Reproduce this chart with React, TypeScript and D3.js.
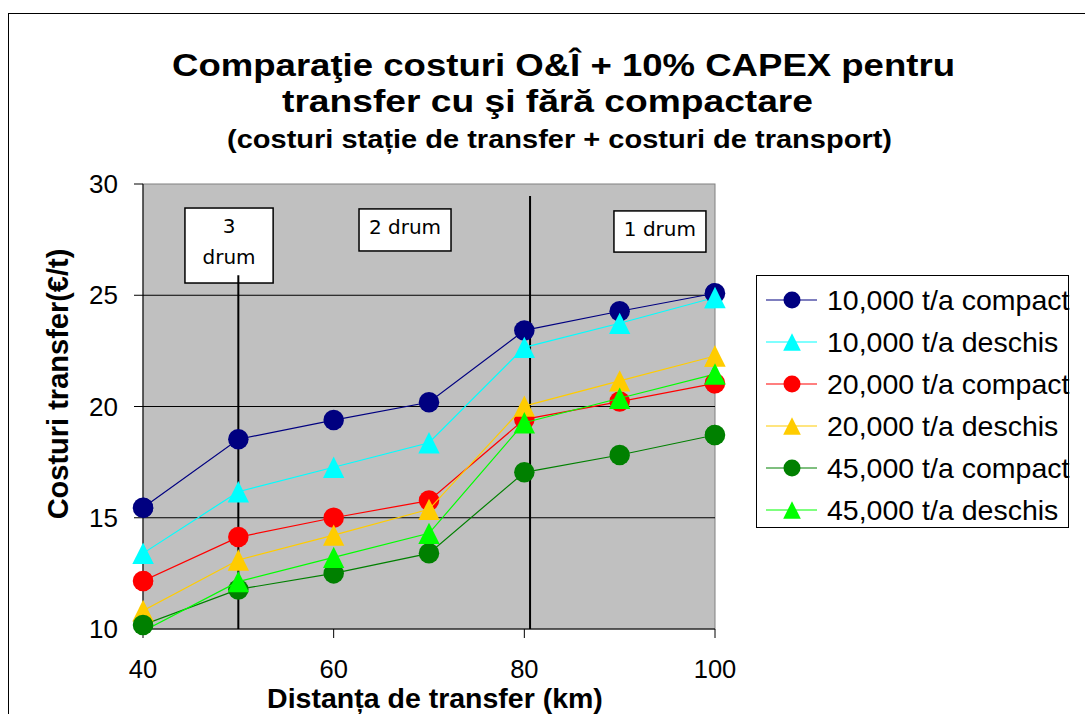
import React from "react";
import * as d3 from "d3";

const distances = [40, 50, 60, 70, 80, 90, 100];
const compact10 = [15.45, 18.53, 19.39, 20.19, 23.42, 24.28, 25.09];
const deschis10 = [13.4, 16.17, 17.27, 18.37, 22.66, 23.74, 24.9];
const compact20 = [12.16, 14.13, 15.0, 15.77, 19.42, 20.22, 21.04];
const deschis20 = [10.82, 13.1, 14.22, 15.38, 20.02, 21.15, 22.27];
const compact45 = [10.18, 11.78, 12.5, 13.4, 17.04, 17.82, 18.72];
const deschis45 = [9.9, 12.13, 13.22, 14.3, 19.27, 20.37, 21.46];

const seriesNames = [
  "10,000 t/a compact",
  "10,000 t/a deschis",
  "20,000 t/a compact",
  "20,000 t/a deschis",
  "45,000 t/a compact",
  "45,000 t/a deschis",
];
const seriesValues = [compact10, deschis10, compact20, deschis20, compact45, deschis45];
const seriesColors = ["#000080", "#00FFFF", "#FF0000", "#FFCC00", "#008000", "#00FF00"];
const seriesShapes = ["circle", "triangle", "circle", "triangle", "circle", "triangle"];

const xTicks = [40, 60, 80, 100];
const yTicks = [10, 15, 20, 25, 30];
const yGrid = [15, 20, 25];

// annotation dividers (km) and road labels
const dividers = [
  { km: 50, top: 25.9 },
  { km: 80.6, top: 29.46 },
];
const roadBoxes = [
  { lines: ["3", "drum"], x0: 44.4, x1: 53.65, yTop: 28.92, yBot: 25.55 },
  { lines: ["2 drum"], x0: 62.66, x1: 72.31, yTop: 28.88, yBot: 26.99 },
  { lines: ["1 drum"], x0: 89.4, x1: 99.05, yTop: 28.79, yBot: 26.94 },
];

const titleLines = [
  "Comparaţie costuri O&Î + 10% CAPEX pentru",
  "transfer cu şi fără compactare",
  "(costuri stație de transfer + costuri de transport)",
];

const W = 1085;
const H = 714;
const FONT = "'Liberation Sans', Arial, sans-serif";

const x = d3.scaleLinear().domain([40, 100]).range([143, 715]);
const y = d3.scaleLinear().domain([10, 30]).range([629, 184]);

function Marker({ shape, cx, cy, color, size }: { shape: string; cx: number; cy: number; color: string; size: number }) {
  if (shape === "circle") {
    return <circle cx={cx} cy={cy} r={size / 2} fill={color} />;
  }
  const s = size * 1.04;
  const pts = [
    [cx, cy - s / 2],
    [cx + s / 2, cy + s / 2],
    [cx - s / 2, cy + s / 2],
  ];
  return <polygon points={pts.map((p) => p.join(",")).join(" ")} fill={color} />;
}

export default function App() {
  const line = d3
    .line<number>()
    .x((_, i) => x(distances[i]))
    .y((d) => y(d));

  const [x0, x1] = x.range();
  const [yb, yt] = y.range();

  return (
    <svg
      width={W}
      height={H}
      style={{ position: "absolute", left: 0, top: 0, background: "#fff" }}
      fontFamily={FONT}
    >
      <defs>
        <clipPath id="plotClip">
          <rect x={x0} y={yt} width={x1 - x0} height={yb - yt} />
        </clipPath>
      </defs>
      {/* outer chart frame */}
      <rect x={8.5} y={13.5} width={W + 20} height={H + 20} fill="#fff" stroke="#000" strokeWidth={1} />

      {/* title */}
      <text x={563.5} y={76} textAnchor="middle" fontSize={31} fontWeight="bold" textLength={783} lengthAdjust="spacingAndGlyphs">
        {titleLines[0]}
      </text>
      <text x={547.5} y={112} textAnchor="middle" fontSize={31} fontWeight="bold" textLength={531} lengthAdjust="spacingAndGlyphs">
        {titleLines[1]}
      </text>
      <text x={559.5} y={148} textAnchor="middle" fontSize={25} fontWeight="bold" textLength={665} lengthAdjust="spacingAndGlyphs">
        {titleLines[2]}
      </text>

      {/* plot area */}
      <rect x={x0} y={yt} width={x1 - x0} height={yb - yt} fill="#C0C0C0" stroke="#808080" strokeWidth={1} />
      {yGrid.map((v) => (
        <line key={v} x1={x0} x2={x1} y1={y(v)} y2={y(v)} stroke="#000" strokeWidth={1} />
      ))}

      {/* axes */}
      <line x1={x0} x2={x0} y1={yt} y2={yb} stroke="#000" strokeWidth={1} />
      <line x1={x0} x2={x1} y1={yb} y2={yb} stroke="#000" strokeWidth={1} />
      {yTicks.map((v) => (
        <g key={v}>
          <line x1={x0 - 9} x2={x0} y1={y(v)} y2={y(v)} stroke="#000" strokeWidth={1} />
          <text x={118} y={y(v) + 9} textAnchor="end" fontSize={26}>
            {v}
          </text>
        </g>
      ))}
      {xTicks.map((v) => (
        <g key={v}>
          <line x1={x(v)} x2={x(v)} y1={yb} y2={yb + 9} stroke="#000" strokeWidth={1} />
          <text x={x(v)} y={678} textAnchor="middle" fontSize={25.5}>
            {v}
          </text>
        </g>
      ))}

      {/* axis titles */}
      <text x={435} y={708} textAnchor="middle" fontSize={28.5} fontWeight="bold">
        Distanța de transfer (km)
      </text>
      <text transform={`translate(68,384) rotate(-90)`} textAnchor="middle" fontSize={29} fontWeight="bold">
        Costuri transfer(€/t)
      </text>

      {/* road boxes */}
      {roadBoxes.map((b, i) => (
        <g key={i}>
          <rect
            x={x(b.x0)}
            y={y(b.yTop)}
            width={x(b.x1) - x(b.x0)}
            height={y(b.yBot) - y(b.yTop)}
            fill="#fff"
            stroke="#000"
            strokeWidth={1.5}
          />
          {b.lines.map((t, j) => (
            <text
              key={j}
              x={(x(b.x0) + x(b.x1)) / 2}
              y={y(b.yTop) + 25 + j * 31}
              textAnchor="middle"
              fontSize={20}
              fontFamily="'DejaVu Sans', Verdana, sans-serif"
            >
              {t}
            </text>
          ))}
        </g>
      ))}

      {/* divider lines */}
      {dividers.map((d, i) => (
        <line key={i} x1={x(d.km)} x2={x(d.km)} y1={y(d.top)} y2={yb} stroke="#000" strokeWidth={2} />
      ))}

      {/* series */}
      <g clipPath="url(#plotClip)">
        {seriesValues.map((vals, si) => (
          <g key={si}>
            <path d={line(vals) || ""} fill="none" stroke={seriesColors[si]} strokeWidth={1.2} />
            {vals.map((v, i) =>
              v < 10 ? null : (
                <Marker key={i} shape={seriesShapes[si]} cx={x(distances[i])} cy={y(v)} color={seriesColors[si]} size={20.5} />
              )
            )}
          </g>
        ))}
      </g>
      {/* markers at plot edges (not clipped) */}
      {seriesValues.map((vals, si) => (
        <g key={si}>
          {vals.map((v, i) =>
            v < 10 || (distances[i] !== 40 && distances[i] !== 100 && v > 10.5) ? null : (
              <Marker key={i} shape={seriesShapes[si]} cx={x(distances[i])} cy={y(v)} color={seriesColors[si]} size={20.5} />
            )
          )}
        </g>
      ))}

      {/* legend */}
      <rect x={756.5} y={275.5} width={312} height={252} fill="#fff" stroke="#000" strokeWidth={1} />
      {seriesNames.map((name, i) => {
        const cy = 300 + i * 42;
        return (
          <g key={name}>
            <line x1={766} x2={817} y1={cy} y2={cy} stroke={seriesColors[i]} strokeWidth={1.2} />
            <Marker shape={seriesShapes[i]} cx={792} cy={cy} color={seriesColors[i]} size={17} />
            <text x={827} y={cy + 10} fontSize={28.5}>
              {name}
            </text>
          </g>
        );
      })}
    </svg>
  );
}
